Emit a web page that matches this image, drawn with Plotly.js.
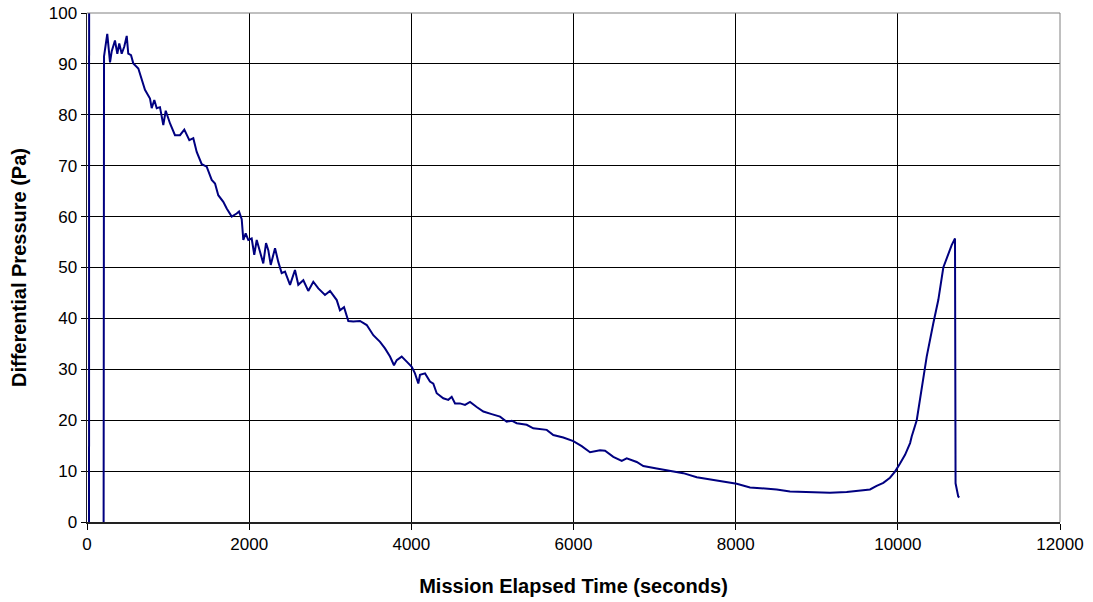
<!DOCTYPE html>
<html>
<head>
<meta charset="utf-8">
<script src="https://cdn.plot.ly/plotly-3.0.1.min.js"></script>
<style>
html,body{margin:0;padding:0;background:#fff;}
#chart{width:1093px;height:602px;}
</style>
</head>
<body>
<div id="chart"></div>
<script>
// Mission elapsed time (seconds)
var timeSec = [
  25, 27, null, 205, 210,
  250, 284, 305, 345, 374, 398, 428, 460, 490, 509, 543, 571, 633, 675,
  715, 777, 798, 830, 860, 900, 941, 971, 1024, 1085, 1147, 1200, 1262, 1311,
  1353, 1415, 1476, 1538, 1579, 1619, 1681, 1723, 1785, 1846, 1875, 1908,
  1928, 1957, 1989, 2031, 2063, 2093, 2155,
  2174, 2208, 2236, 2266, 2319, 2359, 2401, 2442, 2504, 2565, 2606, 2668,
  2729, 2791, 2853, 2935, 2997, 3080, 3120, 3170, 3223, 3284, 3367, 3450,
  3531, 3614, 3675, 3737, 3786, 3820, 3881, 3943, 3984, 4005, 4045, 4086,
  4107, 4169, 4230, 4271, 4313, 4394, 4456, 4498, 4539, 4600, 4662, 4724,
  4806, 4888, 4991, 5094, 5176, 5238, 5300, 5423, 5504, 5670, 5751, 5874,
  5998, 6101, 6204, 6327, 6389, 6491, 6595, 6656, 6780, 6861, 7026, 7190,
  7354, 7520, 7684, 7848, 8013, 8177, 8341, 8506, 8670, 8753, 8958, 9163,
  9369, 9534, 9657, 9739, 9821, 9903, 9965, 10027, 10089, 10151, 10171,
  10233, 10274, 10314, 10356, 10437, 10499, 10561, 10623, 10664, 10705,
  10712, 10745, 10758
];
// Differential pressure (Pa)
var pressurePa = [
  0, 220, null, 0, 91.5,
  95.9, 90.3, 92.5, 94.6, 92, 94, 92, 93.4, 95.5, 92, 91.7, 90.1, 89.1, 86.8,
  84.9, 83.2, 81.3, 82.9, 81.3, 81.5, 78, 80.8, 78.3, 76, 76, 77.1, 75, 75.4,
  72.7, 70.3, 69.8, 67.2, 66.5, 64.2, 62.9, 61.6, 60, 60.6, 61, 59.5,
  55.4, 56.7, 55.4, 55.7, 52.5, 55.4, 52.1,
  50.8, 54.8, 53.4, 50.5, 53.8, 51.1, 48.9, 49.2, 46.6, 49.5, 46.6, 47.5,
  45.4, 47.2, 45.9, 44.6, 45.4, 43.6, 41.6, 42.2, 39.5, 39.4, 39.5, 38.7,
  36.7, 35.4, 34.1, 32.5, 30.8, 31.8, 32.5, 31.5, 30.8, 30.5, 29.2, 27.2,
  28.9, 29.2, 27.6, 27.2, 25.3, 24.3, 24.0, 24.6, 23.3, 23.3, 23, 23.6,
  22.6, 21.7, 21.2, 20.7, 19.7, 19.9, 19.4, 19.1, 18.4, 18.1, 17.1, 16.6,
  15.9, 14.9, 13.7, 14.1, 14, 12.8, 12.0, 12.5, 11.8, 11.0, 10.5, 10.0,
  9.6, 8.8, 8.4, 7.9, 7.5, 6.8, 6.6, 6.4, 6.0, 5.95, 5.9, 5.76,
  5.9, 6.15, 6.4, 7.1, 7.7, 8.7, 9.9, 11.5, 13.2, 15.5, 16.8,
  20.0, 24.0, 28.8, 32.5, 39.0, 43.6, 50.0, 52.8, 54.4, 55.7,
  7.6, 5.0, 4.8
];
var xTicks = [0, 2000, 4000, 6000, 8000, 10000, 12000];
var yTicks = [0, 10, 20, 30, 40, 50, 60, 70, 80, 90, 100];

var trace = {
  x: timeSec,
  y: pressurePa,
  type: 'scatter',
  mode: 'lines',
  connectgaps: false,
  line: {color: '#000080', width: 2},
  hoverinfo: 'x+y'
};

var tickFont = {family: 'Liberation Sans, Arial, sans-serif', size: 17, color: '#000'};
var titleFont = {family: 'Liberation Sans, Arial, sans-serif', size: 20, color: '#000', weight: 'bold'};

var layout = {
  width: 1093,
  height: 602,
  margin: {l: 87, r: 33, t: 13, b: 80, pad: 0},
  paper_bgcolor: '#fff',
  plot_bgcolor: '#fff',
  showlegend: false,
  xaxis: {
    range: [0, 12000],
    tickvals: xTicks,
    ticktext: xTicks.map(String),
    showgrid: true,
    gridcolor: '#000',
    gridwidth: 1,
    zeroline: false,
    showline: true,
    linecolor: '#222',
    linewidth: 1.5,
    ticks: 'outside',
    ticklen: 6,
    tickcolor: '#000',
    tickfont: tickFont,
    title: {text: 'Mission Elapsed Time (seconds)', font: titleFont, standoff: 26}
  },
  yaxis: {
    range: [0, 100],
    tickvals: yTicks,
    ticktext: yTicks.map(String),
    showgrid: true,
    gridcolor: '#000',
    gridwidth: 1,
    zeroline: false,
    showline: true,
    linecolor: '#222',
    linewidth: 1.5,
    ticks: 'outside',
    ticklen: 5,
    tickcolor: '#000',
    tickfont: tickFont,
    title: {text: 'Differential Pressure (Pa)', font: titleFont, standoff: 16}
  },
  shapes: [
    {type: 'line', xref: 'paper', yref: 'paper', x0: 0, x1: 1, y0: 1, y1: 1,
     line: {color: '#808080', width: 1}, layer: 'above'},
    {type: 'line', xref: 'paper', yref: 'paper', x0: 1, x1: 1, y0: 0, y1: 1,
     line: {color: '#808080', width: 1}, layer: 'above'}
  ]
};

Plotly.newPlot('chart', [trace], layout, {displayModeBar: false, staticPlot: true});
</script>
</body>
</html>
